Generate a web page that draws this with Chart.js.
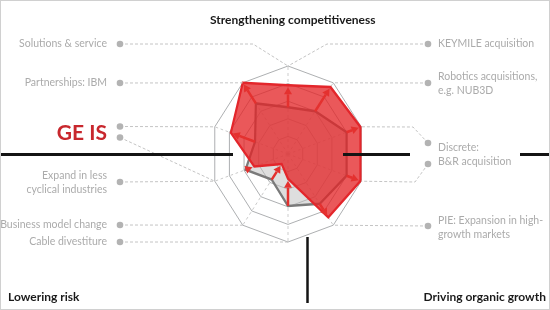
<!DOCTYPE html>
<html>
<head>
<meta charset="utf-8">
<script src="https://cdn.jsdelivr.net/npm/chart.js@4.4.1/dist/chart.umd.min.js"></script>
<style>
  html, body { margin: 0; padding: 0; background: #fff; }
  #wrap { position: relative; width: 550px; height: 310px; overflow: hidden; font-family: Lato, "Open Sans", sans-serif; }
  #frame { position: absolute; left: 0; top: 0; width: 548px; height: 308px; border: 1px solid #d0d0d0; pointer-events: none; }
  canvas { position: absolute; left: 0; top: 0; }
  .lbl { position: absolute; color: #ababab; font-size: 10.5px; line-height: 13.5px; white-space: nowrap; }
  .left { right: 443px; text-align: right; }
  .right { left: 438px; text-align: left; }
  .head { position: absolute; font-weight: 700; color: #1a1a1a; font-size: 12px; line-height: 14px; white-space: nowrap; }
  #geis { position: absolute; right: 443px; top: 121px; color: #c8272d; font-weight: 700; font-size: 21px; line-height: 22px; }
</style>
</head>
<body>
<div id="wrap">
  <canvas id="radar" width="550" height="310"></canvas>

  <div class="head" style="left:210px; top:13px;">Strengthening competitiveness</div>
  <div class="head" style="left:8px; top:290px;">Lowering risk</div>
  <div class="head" style="right:4px; top:290px;">Driving organic growth</div>

  <div class="lbl left" style="top:37px;">Solutions &amp; service</div>
  <div class="lbl left" style="top:76px;">Partnerships: IBM</div>
  <div id="geis">GE IS</div>
  <div class="lbl left" style="top:169px;">Expand in less<br>cyclical industries</div>
  <div class="lbl left" style="top:218px;">Business model change</div>
  <div class="lbl left" style="top:235px;">Cable divestiture</div>

  <div class="lbl right" style="top:37px;">KEYMILE acquisition</div>
  <div class="lbl right" style="top:70px;">Robotics acquisitions,<br>e.g. NUB3D</div>
  <div class="lbl right" style="top:141px;">Discrete:<br>B&amp;R acquisition</div>
  <div class="lbl right" style="top:214px;">PIE: Expansion in high-<br>growth markets</div>

  <div id="frame"></div>
</div>

<script>
// spokes clockwise from the top
const spokes = ['Solutions & service / KEYMILE', 'Robotics acquisitions', 'Discrete', 'B&R acquisition',
  'PIE: Expansion in high-growth markets', 'Cable divestiture', 'Business model change',
  'Expand in less cyclical industries', 'GE IS', 'Partnerships: IBM'];
const before = [2.65, 3.0, 4.0, 4.0, 3.5, 2.95, 1.8, 2.9, 2.25, 3.55];
const after  = [3.9, 4.7, 4.95, 4.95, 4.45, 1.4, 0.7, 2.3, 3.9, 5.0];
const scaleMax = 5;

// the radar in the picture is narrower than it is tall
const SQUISH = 0.875;

// leader lines: grey dot -> (bend) -> spoke end
const leaders = [
  { spoke: 0, dot: [120, 44], bend: [253, 44] },
  { spoke: 0, dot: [428, 44], bend: [327, 44] },
  { spoke: 9, dot: [120, 83] },
  { spoke: 1, dot: [428, 83] },
  { spoke: 8, dot: [120, 126.5] },
  { spoke: 7, dot: [120, 137.5] },
  { spoke: 7, dot: [120, 182] },
  { spoke: 6, dot: [120, 225] },
  { spoke: 5, dot: [120, 242] },
  { spoke: 2, dot: [428, 143], bend: [413, 127] },
  { spoke: 3, dot: [428, 164], bend: [415, 182] },
  { spoke: 4, dot: [428, 226] }
];

function mapX(scale, x) {
  return scale.xCenter + (x - scale.xCenter) * SQUISH;
}

function spokePoint(scale, i, value) {
  const p = scale.getPointPosition(i, scale.getDistanceFromCenterForValue(value));
  return { x: mapX(scale, p.x), y: p.y };
}

function arrow(ctx, x0, y0, x1, y1) {
  const ang = Math.atan2(y1 - y0, x1 - x0);
  const head = 7, half = 4;
  const bx = x1 - Math.cos(ang) * head, by = y1 - Math.sin(ang) * head;
  ctx.beginPath();
  ctx.moveTo(x0, y0);
  ctx.lineTo(bx, by);
  ctx.stroke();
  ctx.beginPath();
  ctx.moveTo(x1, y1);
  ctx.lineTo(bx + Math.sin(ang) * half, by - Math.cos(ang) * half);
  ctx.lineTo(bx - Math.sin(ang) * half, by + Math.cos(ang) * half);
  ctx.closePath();
  ctx.fill();
}

function drawOverlay(chart) {
  const ctx = chart.ctx, r = chart.scales.r;
  ctx.save();

  // dashed leader lines
  ctx.strokeStyle = '#c4c4c4';
  ctx.lineWidth = 1;
  ctx.setLineDash([3, 2]);
  leaders.forEach(l => {
    const end = spokePoint(r, l.spoke, scaleMax);
    ctx.beginPath();
    ctx.moveTo(l.dot[0], l.dot[1]);
    if (l.bend) ctx.lineTo(l.bend[0], l.bend[1]);
    ctx.lineTo(end.x, end.y);
    ctx.stroke();
  });
  ctx.setLineDash([]);

  // arrows from before to after
  ctx.strokeStyle = '#e4312f';
  ctx.fillStyle = '#e4312f';
  ctx.lineWidth = 2.5;
  spokes.forEach((s, i) => {
    const a = spokePoint(r, i, before[i]);
    const b = spokePoint(r, i, after[i]);
    const len = Math.hypot(b.x - a.x, b.y - a.y);
    if (len < 4) return;
    const k = (len - 2) / len;
    arrow(ctx, a.x, a.y, a.x + (b.x - a.x) * k, a.y + (b.y - a.y) * k);
  });

  // black quadrant lines
  ctx.strokeStyle = '#141414';
  ctx.lineWidth = 3;
  [[0, 233], [343, 410], [520, 550]].forEach(seg => {
    ctx.beginPath();
    ctx.moveTo(seg[0], 154.5);
    ctx.lineTo(seg[1], 154.5);
    ctx.stroke();
  });
  ctx.lineWidth = 2.5;
  ctx.beginPath();
  ctx.moveTo(307.5, 237);
  ctx.lineTo(307.5, 303);
  ctx.stroke();

  // grey dots
  ctx.fillStyle = '#b3b3b3';
  leaders.forEach(l => {
    ctx.beginPath();
    ctx.arc(l.dot[0], l.dot[1], 3.3, 0, Math.PI * 2);
    ctx.fill();
  });
  ctx.restore();
}

const squishPlugin = {
  id: 'squish',
  beforeDraw(chart) {
    const ctx = chart.ctx, cx = chart.scales.r.xCenter;
    ctx.save();
    ctx.translate(cx, 0);
    ctx.scale(SQUISH, 1);
    ctx.translate(-cx, 0);
  },
  afterDatasetsDraw(chart) {
    chart.ctx.restore();
    drawOverlay(chart);
  }
};

new Chart(document.getElementById('radar'), {
  type: 'radar',
  data: {
    labels: spokes,
    datasets: [{
      label: 'After',
      data: after,
      backgroundColor: 'rgba(228, 35, 38, 0.76)',
      borderColor: '#e3262b',
      borderWidth: 2.5,
      pointRadius: 0,
      fill: true
    }, {
      label: 'Before',
      data: before,
      backgroundColor: 'rgba(190, 190, 190, 0.5)',
      borderColor: '#7a7a7a',
      borderWidth: 2.5,
      pointRadius: 0,
      fill: true
    }]
  },
  options: {
    responsive: false,
    animation: false,
    layout: { padding: { left: 200, right: 174, top: 66, bottom: 67 } },
    plugins: { legend: { display: false }, tooltip: { enabled: false } },
    elements: { line: { tension: 0, borderJoinStyle: 'miter' } },
    scales: {
      r: {
        min: 0,
        max: scaleMax,
        ticks: { display: false, stepSize: 1 },
        pointLabels: { display: false },
        grid: { color: '#a7aaac', lineWidth: 1 },
        angleLines: { color: '#c6c6c6', lineWidth: 1, borderDash: [3, 3] }
      }
    }
  },
  plugins: [squishPlugin]
});
</script>
</body>
</html>
